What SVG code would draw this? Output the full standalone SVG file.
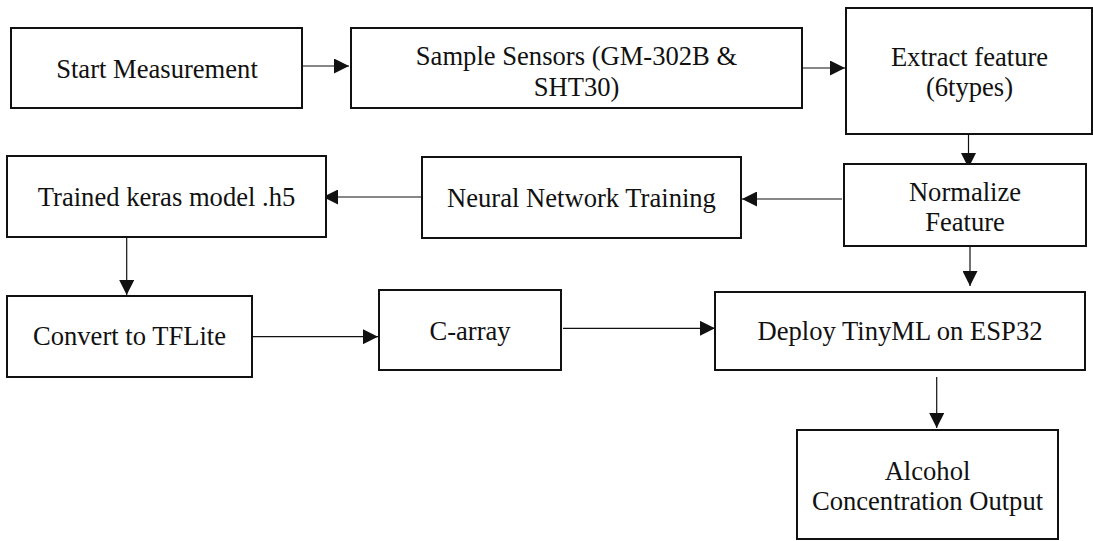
<svg xmlns="http://www.w3.org/2000/svg" width="1093" height="541" viewBox="0 0 1093 541">
<style>
.box{fill:#fff;stroke:#111;stroke-width:2}
.t{font-family:'Liberation Serif',Times,serif;font-size:26.6px;fill:#111;text-anchor:middle}
.c{stroke:#111;stroke-width:1.2;fill:none;marker-end:url(#ah)}
</style>
<defs>
<marker id="ah" markerUnits="userSpaceOnUse" markerWidth="15" markerHeight="15" refX="15" refY="7.5" orient="auto">
<path d="M0,0 L15,7.5 L0,15 Z" fill="#111"/>
</marker>
</defs>
<rect width="1093" height="541" fill="#fff"/>
<g id="connectors">
<line class="c" x1="302" y1="66" x2="349" y2="66"/>
<line class="c" x1="802" y1="68" x2="845" y2="68"/>
<line class="c" x1="968.5" y1="134" x2="968.5" y2="168"/>
<line class="c" x1="842" y1="199" x2="742" y2="199"/>
<line class="c" x1="422" y1="197" x2="323" y2="197"/>
<line class="c" x1="126.7" y1="237" x2="126.7" y2="295"/>
<line class="c" x1="252" y1="336.7" x2="378" y2="336.7"/>
<line class="c" x1="563" y1="328.3" x2="715" y2="328.3"/>
<line class="c" x1="936.7" y1="377" x2="936.7" y2="428"/>
<line class="c" x1="970" y1="246" x2="970" y2="286"/>
</g>
<g font-family="Liberation Serif, serif">
<g id="start">
<rect class="box" x="11" y="28" width="291" height="80"/>
<text class="t" x="157" y="78">Start Measurement</text>
</g>
<g id="sample">
<rect class="box" x="351" y="28" width="451" height="80"/>
<text class="t" x="576.5" y="64.5">Sample Sensors (GM-302B &amp;</text>
<text class="t" x="576.5" y="95.7">SHT30)</text>
</g>
<g id="extract">
<rect class="box" x="846" y="8" width="246" height="126"/>
<text class="t" x="969.5" y="65.5">Extract feature</text>
<text class="t" x="969.5" y="96">(6types)</text>
</g>
<g id="normalize">
<rect class="box" x="844" y="164" width="242" height="82"/>
<text class="t" x="965" y="201">Normalize</text>
<text class="t" x="965" y="231">Feature</text>
</g>
<g id="training">
<rect class="box" x="422" y="157" width="319" height="81"/>
<text class="t" x="581.5" y="206.5">Neural Network Training</text>
</g>
<g id="keras">
<rect class="box" x="7" y="156" width="319" height="81"/>
<text class="t" x="166.5" y="205.5">Trained keras model .h5</text>
</g>
<g id="tflite">
<rect class="box" x="7" y="296" width="245" height="81"/>
<text class="t" x="129.5" y="345">Convert to TFLite</text>
</g>
<g id="carray">
<rect class="box" x="379" y="290" width="182" height="80"/>
<text class="t" x="470" y="340">C-array</text>
</g>
<g id="deploy">
<rect class="box" x="715" y="292" width="370" height="78"/>
<text class="t" x="900" y="340">Deploy TinyML on ESP32</text>
</g>
<g id="output">
<rect class="box" x="797" y="430" width="261" height="109"/>
<text class="t" x="927.5" y="480">Alcohol</text>
<text class="t" x="927.5" y="510">Concentration Output</text>
</g>
</g>
</svg>
